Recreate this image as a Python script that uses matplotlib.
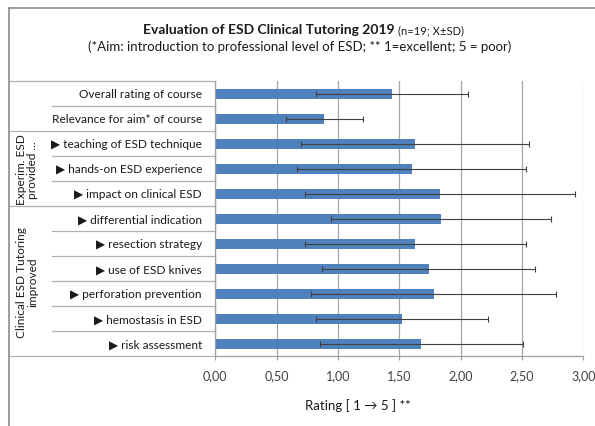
import matplotlib.pyplot as plt
from matplotlib.transforms import blended_transform_factory
import numpy as np

labels = ["Overall rating of course",
          "Relevance for aim* of course",
          "\u25b6 teaching of ESD technique",
          "\u25b6 hands-on ESD experience",
          "\u25b6 impact on clinical ESD",
          "\u25b6 differential indication",
          "\u25b6 resection strategy",
          "\u25b6 use of ESD knives",
          "\u25b6 perforation prevention",
          "\u25b6 hemostasis in ESD",
          "\u25b6 risk assessment"]
means = [1.44, 0.89, 1.63, 1.60, 1.83, 1.84, 1.63, 1.74, 1.78, 1.52, 1.68]
sds = [0.62, 0.31, 0.93, 0.93, 1.10, 0.90, 0.90, 0.87, 1.00, 0.70, 0.83]
groups = [("Experim. ESD\nprovided ...", 2, 4),
          ("Clinical ESD Tutoring\nimproved", 5, 10)]
xticks = [0, 0.5, 1.0, 1.5, 2.0, 2.5, 3.0]

FONT = ['Lato', 'DejaVu Sans']
plt.rcParams['font.family'] = FONT

W, H = 595, 427
fig = plt.figure(figsize=(W / 100, H / 100), dpi=100)


def fx(px):
    return px / W


def fy(py):
    return 1 - py / H


ax = fig.add_axes([fx(215.3), fy(357.3), fx(583.3) - fx(215.3), fy(82.3) - fy(357.3)])

y = np.arange(len(labels))
ax.barh(y, means, height=0.4, color='#4f81bd', zorder=2)
ax.errorbar(means, y, xerr=sds, fmt='none', ecolor='#404040', elinewidth=0.8,
            capsize=2.2, capthick=0.8, zorder=3)

ax.set_xlim(0, 3)
ax.set_ylim(len(labels) - 0.5, -0.5)
ax.set_xticks(xticks)
ax.set_xticklabels([f"{t:.2f}".replace('.', ',') for t in xticks], fontsize=9, color='#404040')
ax.set_yticks([])
ax.tick_params(axis='x', length=3, color='#a0a0a0', pad=6)
ax.grid(axis='x', color='#a6a6a6', linewidth=0.9, zorder=0)
for s in ['top', 'right']:
    ax.spines[s].set_visible(False)
for s in ['left', 'bottom']:
    ax.spines[s].set_color('#a0a0a0')
    ax.spines[s].set_linewidth(0.9)

# category table on the left
tr = blended_transform_factory(fig.transFigure, ax.transData)
group_edges = {-0.5, 1.5, 4.5, 10.5}
for b in np.arange(-0.5, len(labels), 1.0):
    x0 = fx(9.5) if b in group_edges else fx(52.3)
    ax.plot([x0, fx(215.3)], [b, b], transform=tr, color='#b0b0b0', lw=0.9, clip_on=False)
for i, lab in enumerate(labels):
    ax.text(fx(202), i, lab, transform=tr, ha='right', va='center', fontsize=8.6, color='#1a1a1a')
for name, a, b in groups:
    ax.text(fx(27), (a + b) / 2, name, transform=tr, ha='center', va='center', rotation=90,
            fontsize=8.6, color='#1a1a1a', linespacing=1.1)

# outer frame
fig.add_artist(plt.Line2D([fx(9.3), fx(9.3)], [fy(8.7), 0], color='#8c8c8c', lw=1.2))
fig.add_artist(plt.Line2D([fx(9.3), 1], [fy(8.7), fy(8.7)], color='#8c8c8c', lw=1.2))

fig.text(fx(395), fy(30), "Evaluation of ESD Clinical Tutoring 2019", ha='right', va='center',
         fontsize=10, fontweight='bold', color='#1a1a1a')
fig.text(fx(398), fy(30.5), "(n=19; X\u00b1SD)", ha='left', va='center', fontsize=8, color='#1a1a1a')
fig.text(fx(300), fy(47), "(*Aim: introduction to professional level of ESD; ** 1=excellent; 5 = poor)",
         ha='center', va='center', fontsize=9.5, color='#1a1a1a')
fig.text(fx(358), fy(406), "Rating [ 1 \u2192 5 ] **", ha='center', va='center', fontsize=9.5,
         color='#1a1a1a')

fig.savefig('out.png', dpi=100)
